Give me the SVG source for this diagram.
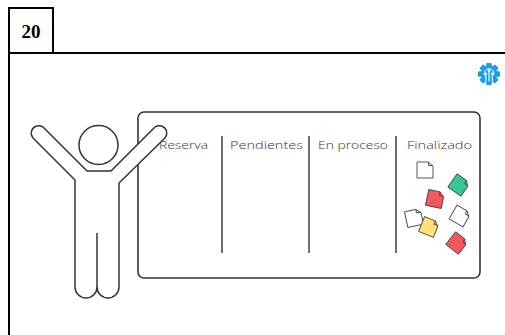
<svg xmlns="http://www.w3.org/2000/svg" width="505" height="335" viewBox="0 0 505 335">
  <style>
    .frame { fill: none; stroke: #000; stroke-width: 2; }
    .num { font-family: "Liberation Serif", "Times New Roman", serif; font-weight: bold; font-size: 19px; fill: #000; }
    .board { fill: #fff; stroke: #333; stroke-width: 1.6; }
    .divider { stroke: #333; stroke-width: 1.4; }
    .col { font-family: "Open Sans", "Noto Sans", sans-serif; font-weight: 300; font-size: 11.5px; fill: #333; }
    .person { fill: #fff; stroke: #333; stroke-width: 1.5; stroke-linejoin: round; }
    .note { stroke: #444; stroke-width: 0.9; stroke-linejoin: round; }
    .fold { fill: none; stroke: #444; stroke-width: 0.9; stroke-linejoin: round; }
    .white { fill: #fff; }
    .green { fill: #35c79a; }
    .red { fill: #f2585e; }
    .yellow { fill: #ffdf76; }
    .tooth { fill: #1b9ce8; }
  </style>
  <defs>
    <g id="note-fold">
      <path class="fold" d="M3.5,-8 V-4.5 H8"/>
    </g>
    <path id="note-shape" d="M-8,-8 H3.5 L8,-3.5 V8 H-8 Z"/>
    <rect id="tooth" class="tooth" x="-2.8" y="-11" width="5.6" height="22" rx="1"/>
  </defs>

  <!-- page frame with number tab -->
  <g id="frame">
    <rect class="frame" x="9" y="8" width="44" height="45"/>
    <line class="frame" x1="9" y1="53" x2="505" y2="53"/>
    <line class="frame" x1="9" y1="8" x2="9" y2="335"/>
    <text class="num" x="31" y="38" text-anchor="middle">20</text>
  </g>

  <!-- gear logo -->
  <g id="logo" transform="translate(489,74)">
    <circle r="8.3" fill="#1b9ce8"/>
    <use href="#tooth"/>
    <use href="#tooth" transform="rotate(45)"/>
    <use href="#tooth" transform="rotate(90)"/>
    <use href="#tooth" transform="rotate(135)"/>
    <g fill="none" stroke="#fff" stroke-width="1.1" stroke-linecap="round">
      <path d="M-3.2,7 V0.5 M0,7 V-2.5 M3.2,7 V0.5"/>
      <path d="M-4.8,1 A5,5 0 1 1 4.8,1" stroke-width="0.9"/>
    </g>
    <g fill="#fff">
      <circle cx="0" cy="-3.3" r="1.4"/>
      <circle cx="-3.2" cy="-0.4" r="1.2"/>
      <circle cx="3.2" cy="-0.4" r="1.2"/>
    </g>
  </g>

  <!-- kanban board -->
  <g id="board">
    <rect class="board" x="138" y="112" width="342" height="166" rx="6"/>
    <line class="divider" x1="222" y1="136" x2="222" y2="253"/>
    <line class="divider" x1="309" y1="136" x2="309" y2="253"/>
    <line class="divider" x1="396" y1="136" x2="396" y2="253"/>
    <text class="col" x="159" y="149" textLength="49" lengthAdjust="spacingAndGlyphs">Reserva</text>
    <text class="col" x="230" y="149" textLength="73" lengthAdjust="spacingAndGlyphs">Pendientes</text>
    <text class="col" x="318" y="149" textLength="70" lengthAdjust="spacingAndGlyphs">En proceso</text>
    <text class="col" x="407" y="149" textLength="65" lengthAdjust="spacingAndGlyphs">Finalizado</text>
  </g>

  <!-- sticky notes in the done column -->
  <g id="notes">
    <g transform="translate(425,170)"><use href="#note-shape" class="note white"/><use href="#note-fold"/></g>
    <g transform="translate(459,185) rotate(35)"><use href="#note-shape" class="note green"/><use href="#note-fold"/></g>
    <g transform="translate(435,199) rotate(12)"><use href="#note-shape" class="note red"/><use href="#note-fold"/></g>
    <g transform="translate(460,216) rotate(30)"><use href="#note-shape" class="note white"/><use href="#note-fold"/></g>
    <g transform="translate(414,218) rotate(-12)"><use href="#note-shape" class="note white"/><use href="#note-fold"/></g>
    <g transform="translate(429,227) rotate(22)"><use href="#note-shape" class="note yellow"/><use href="#note-fold"/></g>
    <g transform="translate(457,243) rotate(38)"><use href="#note-shape" class="note red"/><use href="#note-fold"/></g>
  </g>

  <!-- person with raised arms -->
  <g id="person">
    <path class="person" d="M33,138 A7.5,7.5 0 0 1 43,127 L87,171 H111 L155,127 A7.5,7.5 0 0 1 165,138 L119,183 V287 A11,11 0 0 1 97,287 A11,11 0 0 1 75,287 V180 Z"/>
    <line x1="97" y1="233" x2="97" y2="287" stroke="#333" stroke-width="1.5"/>
    <circle class="person" cx="98.5" cy="145" r="19.5"/>
  </g>
</svg>
